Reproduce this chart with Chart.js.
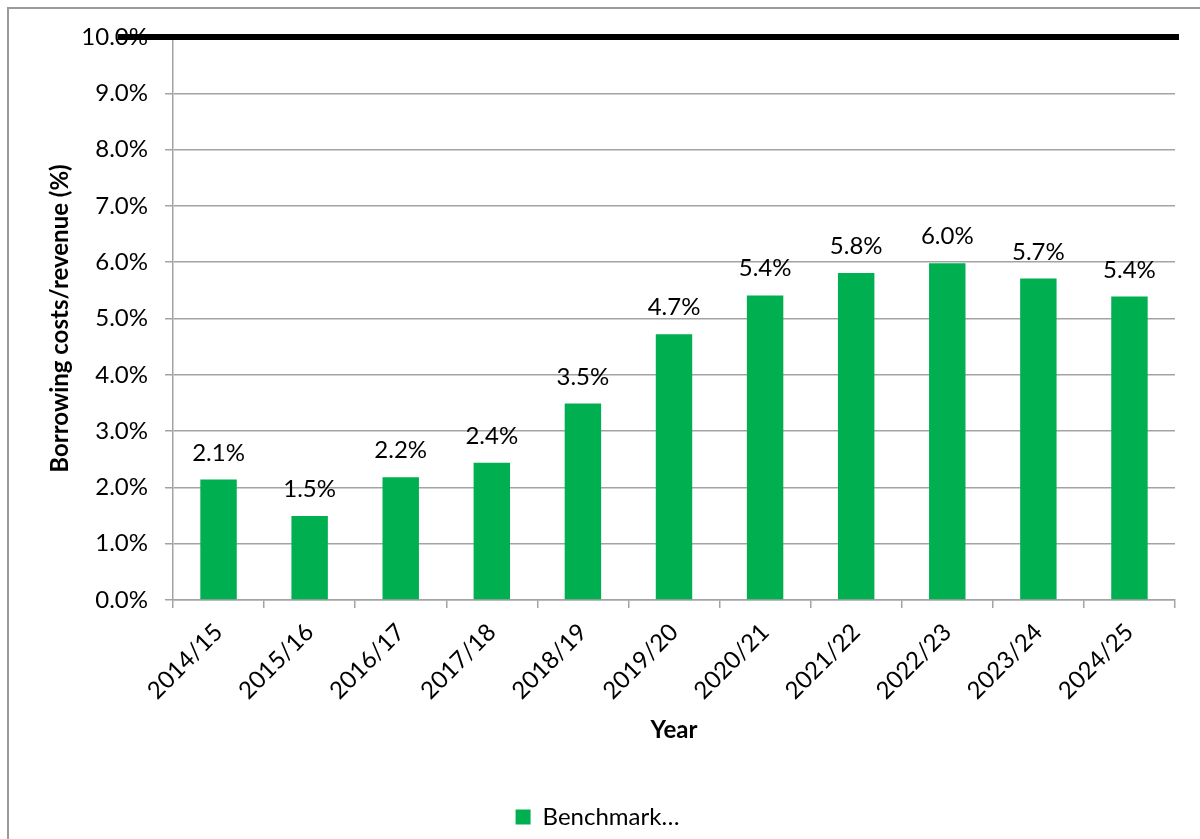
<!DOCTYPE html>
<html>
<head>
<meta charset="utf-8">
<script src="https://cdn.jsdelivr.net/npm/chart.js@4"></script>
<style>
  html, body { margin: 0; padding: 0; background: #fff; overflow: hidden; }
  #frame {
    position: absolute; left: 7px; top: 7px;
    width: 1400px; height: 1000px;
    border-left: 2px solid #9a9a9a; border-top: 2px solid #9a9a9a;
  }
  #wrap { position: absolute; left: 0; top: 0; width: 1200px; height: 839px; }
</style>
</head>
<body>
<div id="frame"></div>
<div id="wrap"><canvas id="chart" width="1200" height="839"></canvas></div>
<script>
// Borrowing costs as a share of revenue, by financial year
const years = ["2014/15", "2015/16", "2016/17", "2017/18", "2018/19", "2019/20",
               "2020/21", "2021/22", "2022/23", "2023/24", "2024/25"];
const costRatio = [2.14, 1.49, 2.18, 2.44, 3.49, 4.72, 5.41, 5.81, 5.98, 5.71, 5.39];
const benchmark = [10.0];
const yTicks = [0, 1, 2, 3, 4, 5, 6, 7, 8, 9, 10];

const FONT = "Lato, 'Open Sans', sans-serif";
const GREEN = "#00b050";
const GRID = "#a3a3a3";

// value labels above each bar
const barLabels = {
  id: "barLabels",
  afterDatasetsDraw(chart) {
    const ctx = chart.ctx;
    const meta = chart.getDatasetMeta(0);
    ctx.save();
    ctx.font = "24px " + FONT;
    ctx.fillStyle = "#000";
    ctx.textAlign = "center";
    ctx.textBaseline = "alphabetic";
    meta.data.forEach((bar, i) => {
      ctx.fillText(costRatio[i].toFixed(1) + "%", bar.x, bar.y - 19);
    });
    ctx.restore();
  }
};

// thick benchmark line across the top
const benchmarkLine = {
  id: "benchmarkLine",
  afterDatasetsDraw(chart) {
    const { ctx, chartArea, scales } = chart;
    const y = scales.y.getPixelForValue(benchmark[0]);
    ctx.save();
    ctx.strokeStyle = "#000";
    ctx.lineWidth = 6;
    ctx.beginPath();
    ctx.moveTo(chartArea.left - 55, y);
    ctx.lineTo(chartArea.right + 4, y);
    ctx.stroke();
    ctx.restore();
  }
};

new Chart(document.getElementById("chart"), {
  type: "bar",
  data: {
    labels: years,
    datasets: [{
      label: "Benchmark\u2026",
      data: costRatio,
      backgroundColor: GREEN,
      borderWidth: 0,
      barPercentage: 0.4,
      categoryPercentage: 1.0
    }]
  },
  options: {
    responsive: false,
    animation: false,
    layout: { padding: { left: 20, right: 25, top: 37, bottom: 0 } },
    plugins: {
      legend: {
        position: "bottom",
        labels: {
          boxWidth: 15, boxHeight: 15, padding: 10,
          color: "#000",
          font: { family: FONT, size: 24 }
        }
      },
      tooltip: { enabled: false }
    },
    scales: {
      x: {
        grid: {
          drawOnChartArea: false,
          drawTicks: true,
          tickLength: 8,
          color: GRID,
          lineWidth: 1.5
        },
        border: { color: GRID, width: 1.5 },
        ticks: {
          color: "#000",
          font: { family: FONT, size: 24 },
          maxRotation: 45, minRotation: 45,
          padding: 10
        },
        title: {
          display: true, text: "Year", color: "#000",
          font: { family: FONT, size: 24, weight: "bold" },
          padding: { top: 0, bottom: 50 }
        },
        afterFit(scale) { scale.height = 195; }
      },
      y: {
        min: 0, max: 10,
        afterBuildTicks(scale) { scale.ticks = yTicks.map(v => ({ value: v })); },
        grid: { color: GRID, lineWidth: 1.5, tickLength: 8 },
        border: { color: GRID, width: 1.5 },
        ticks: {
          color: "#000",
          font: { family: FONT, size: 24 },
          padding: 17,
          callback: (v) => Number(v).toFixed(1) + "%"
        },
        title: {
          display: true, text: "Borrowing costs/revenue (%)", color: "#000",
          font: { family: FONT, size: 24, weight: "bold" },
          padding: { top: 26, bottom: 0 }
        },
        afterFit(scale) { scale.width = 153; }
      }
    }
  },
  plugins: [barLabels, benchmarkLine]
});
</script>
</body>
</html>
